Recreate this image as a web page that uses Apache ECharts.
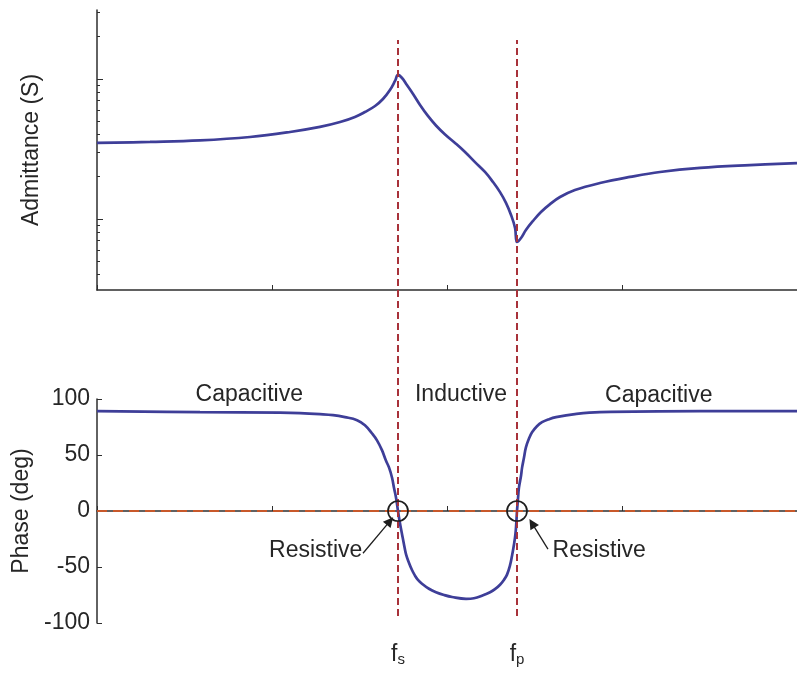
<!DOCTYPE html>
<html><head><meta charset="utf-8">
<script src="https://cdn.jsdelivr.net/npm/echarts@6/dist/echarts.min.js"></script>
<style>html,body{margin:0;padding:0;background:#fff}#c{width:797px;height:673px}</style>
</head><body><div id="c"></div>
<script>
// ---- data (x in arbitrary frequency units, 0..4) ----
const admitX = [0.00,0.303,0.589,0.874,1.103,1.274,1.389,1.474,1.531,1.589,1.634,1.674,1.703,1.72,1.743,1.771,1.806,1.846,1.891,1.937,1.989,2.046,2.103,2.16,2.217,2.263,2.303,2.337,2.366,2.389,2.40,2.423,2.451,2.491,2.537,2.589,2.646,2.731,2.874,3.046,3.217,3.446,3.731,4.00];
const admitY = [34.8,35.4,36.3,38.4,41.7,45.3,49.1,53.4,57.9,63.9,71.7,83.2,96.5,106.5,101.3,90.3,77.9,65.0,54.3,46.4,40.0,34.8,30.0,25.4,21.6,18.3,15.5,13.0,10.65,8.6,6.83,7.29,8.32,9.64,11.18,12.74,14.3,16.05,18.0,19.9,21.6,23.1,24.2,25.0];
const phaseX = [0.00,0.589,1.046,1.16,1.274,1.349,1.417,1.486,1.531,1.571,1.60,1.629,1.651,1.669,1.686,1.697,1.709,1.72,1.731,1.743,1.754,1.766,1.783,1.80,1.817,1.834,1.857,1.897,1.937,1.983,2.029,2.109,2.154,2.206,2.246,2.274,2.303,2.326,2.343,2.36,2.371,2.383,2.391,2.396,2.40,2.406,2.411,2.423,2.429,2.44,2.451,2.469,2.486,2.514,2.543,2.583,2.623,2.731,2.874,3.446,4.00];
const phaseY = [89.2,88.3,87.8,87.4,86.5,85.6,83.8,81.1,76.6,69.4,63.1,54.1,45.0,38.7,29.7,20.7,11.7,0,-10.8,-20.7,-29.7,-38.7,-46.4,-52.7,-57.7,-61.5,-64.9,-69.4,-72.5,-75.0,-76.8,-78.4,-77.9,-75.2,-72.5,-69.8,-65.8,-61.3,-56.8,-48.6,-40.5,-29.7,-20.7,-10.8,0,11.7,20.7,31.5,38.7,47.7,56.8,64.9,70.3,75.7,79.3,82.0,83.8,86.5,88.3,89.2,89.2];
const fS = 1.72, fP = 2.40;
const admitMajorTicks = [10,100];
const admitMinorTicks = [4,5,6,7,8,9,20,30,40,50,60,70,80,90,200,300];
const regionNames = ['Capacitive','Inductive','Capacitive'];
const regionX = [0.87,2.08,3.21];
const regionY = [104,104,103];
const resistiveText = [[1.25,-35],[2.87,-35]];
const arrowFrom = [[1.52,-37.7],[2.577,-34]];
const arrowTo = [[1.674,-9],[2.486,-11]];

const FONT = 'Liberation Sans, Arial, sans-serif';
const AX = '#2e2e2e';
const BLUE = '#3e3e98';
const TXT = '#262626';

const chart = echarts.init(document.getElementById('c'));
const xBase = (gi, showTicks) => ({
  type:'value', gridIndex:gi, min:0, max:4, interval:1,
  axisLine:{show:showTicks, lineStyle:{color:AX, width:1.5}},
  axisTick:{show:showTicks, inside:true, length:5, lineStyle:{color:AX}},
  axisLabel:{show:false}, splitLine:{show:false}
});
const option = {
  animation:false,
  textStyle:{fontFamily:FONT},
  grid:[
    {left:97, right:0, top:10, height:280},
    {left:97, right:0, top:399, height:224},
    {left:97, right:0, top:40, height:576}
  ],
  xAxis:[xBase(0,true), xBase(1,true), xBase(2,false)],
  yAxis:[
    {type:'log', gridIndex:0, min:3.1, max:310, logBase:10,
     axisLine:{show:true, lineStyle:{color:AX, width:1.5}},
     axisTick:{show:true, inside:true, length:6, customValues:admitMajorTicks, lineStyle:{color:AX}},
     axisLabel:{show:false}, splitLine:{show:false},
     name:'Admittance (S)', nameLocation:'middle', nameGap:54, nameRotate:90,
     nameTextStyle:{fontSize:23, color:TXT, fontFamily:FONT}},
    {type:'log', gridIndex:0, min:3.1, max:310, logBase:10, position:'left',
     axisLine:{show:false},
     axisTick:{show:true, inside:true, length:3, customValues:admitMinorTicks, lineStyle:{color:AX}},
     axisLabel:{show:false}, splitLine:{show:false}},
    {type:'value', gridIndex:1, min:-100, max:100, interval:50,
     axisLine:{show:true, lineStyle:{color:AX, width:1.5}},
     axisTick:{show:true, inside:true, length:5, lineStyle:{color:AX}},
     axisLabel:{show:true, fontSize:23, color:TXT, margin:7, fontFamily:FONT},
     splitLine:{show:false},
     name:'Phase (deg)', nameLocation:'middle', nameGap:64, nameRotate:90,
     nameTextStyle:{fontSize:23, color:TXT, fontFamily:FONT}},
    {type:'value', gridIndex:2, min:0, max:1, show:false}
  ],
  series:[
    {type:'line', xAxisIndex:0, yAxisIndex:0, smooth:0.4, symbol:'none',
     lineStyle:{color:BLUE, width:2.7},
     data: admitX.map((x,i)=>[x, admitY[i]])},
    {type:'line', xAxisIndex:1, yAxisIndex:2, data:[], symbol:'none', z:1,
     markLine:{silent:true, animation:false, symbol:['none','none'],
       lineStyle:{color:'#c8582a', type:[10,6], width:2.2},
       label:{show:false}, data:[[{coord:[0,0]},{coord:[4,0]}]]}},
    {type:'line', xAxisIndex:1, yAxisIndex:2, smooth:0.4, symbol:'none', z:3,
     lineStyle:{color:BLUE, width:2.7},
     data: phaseX.map((x,i)=>[x, phaseY[i]]),
     markPoint:{silent:true, animation:false,
       data:[
         {coord:[fS,0], symbol:'circle', symbolSize:20, itemStyle:{color:'rgba(0,0,0,0)', borderColor:'#1e1e1e', borderWidth:1.7}, label:{show:false}},
         {coord:[fP,0], symbol:'circle', symbolSize:20, itemStyle:{color:'rgba(0,0,0,0)', borderColor:'#1e1e1e', borderWidth:1.7}, label:{show:false}},
         ...resistiveText.map(p=>({coord:p, symbolSize:0,
            label:{show:true, position:'inside', formatter:'Resistive', fontSize:23, color:TXT, fontFamily:FONT}}))
       ]}},
    {type:'line', xAxisIndex:1, yAxisIndex:2, data:[], symbol:'none',
     markLine:{silent:true, animation:false, symbol:['none','triangle'], symbolSize:10,
       lineStyle:{color:'#1e1e1e', type:'solid', width:1.3}, label:{show:false},
       data: arrowFrom.map((p,i)=>[{coord:p},{coord:arrowTo[i]}])}},
    {type:'line', xAxisIndex:2, yAxisIndex:3, data:[], symbol:'none',
     markLine:{silent:true, animation:false, symbol:['none','none'],
       lineStyle:{color:'#a8323a', type:[7,4], width:2},
       label:{show:true, position:'start', distance:26, color:TXT, fontFamily:FONT,
         rich:{f:{fontSize:23, fontFamily:FONT, color:TXT}, s:{fontSize:15, fontFamily:FONT, color:TXT, verticalAlign:'bottom', padding:[10,0,0,0]}}},
       data:[{xAxis:fS, label:{formatter:'{f|f}{s|s}'}},{xAxis:fP, label:{formatter:'{f|f}{s|p}'}}]}}
  ]
};
chart.setOption(option);
// region annotations placed through the phase axes' scale
const graphics = regionNames.map((n,i)=>{
  const p = chart.convertToPixel({xAxisIndex:1, yAxisIndex:2}, [regionX[i], regionY[i]]);
  return {type:'text', x:p[0], y:p[1], z:10,
    style:{text:n, fontSize:23, fontFamily:FONT, fill:TXT, align:'center', verticalAlign:'middle'}};
});
chart.setOption({graphic:graphics});
</script></body></html>
